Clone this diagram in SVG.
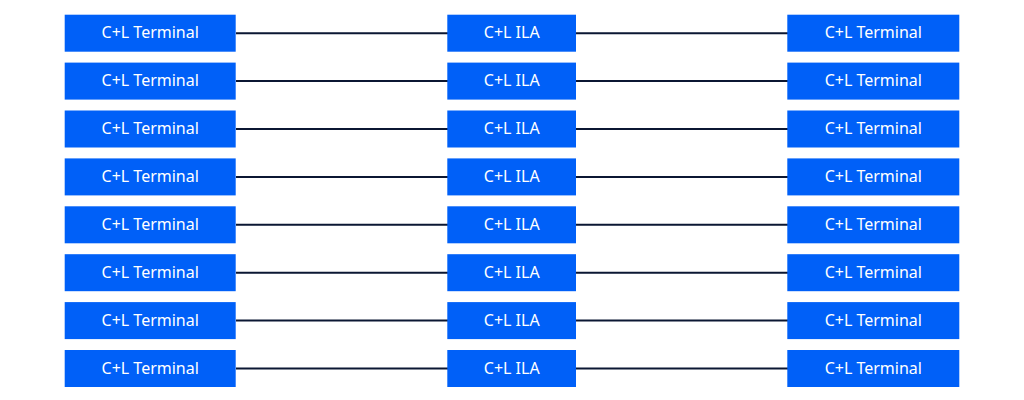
<svg xmlns="http://www.w3.org/2000/svg" width="1024" height="400" viewBox="0 0 1024 400">
<style>
.box{fill:#0060F8}
.t{font-family:"Noto Sans","Open Sans",sans-serif;font-size:16px;fill:#ffffff;text-anchor:middle;dominant-baseline:central}
.c{stroke:#0B1733;stroke-width:2;fill:none}
</style>
<rect width="1024" height="400" fill="#ffffff"/>
<g id="connectors">
<path class="c" d="M236 33.2H448M576 33.2H788"/>
<path class="c" d="M236 81.1H448M576 81.1H788"/>
<path class="c" d="M236 129H448M576 129H788"/>
<path class="c" d="M236 176.9H448M576 176.9H788"/>
<path class="c" d="M236 224.8H448M576 224.8H788"/>
<path class="c" d="M236 272.7H448M576 272.7H788"/>
<path class="c" d="M236 320.6H448M576 320.6H788"/>
<path class="c" d="M236 368.5H448M576 368.5H788"/>
</g>
<g id="l1"><rect class="box" x="64.7" y="14.7" width="171" height="37"/><text class="t" x="150.2" y="32.2">C+L Terminal</text></g>
<g id="m1"><rect class="box" x="447.3" y="14.7" width="128.7" height="37"/><text class="t" x="511.7" y="32.2">C+L ILA</text></g>
<g id="r1"><rect class="box" x="787.3" y="14.7" width="172" height="37"/><text class="t" x="873.3" y="32.2">C+L Terminal</text></g>
<g id="l2"><rect class="box" x="64.7" y="62.6" width="171" height="37"/><text class="t" x="150.2" y="80.1">C+L Terminal</text></g>
<g id="m2"><rect class="box" x="447.3" y="62.6" width="128.7" height="37"/><text class="t" x="511.7" y="80.1">C+L ILA</text></g>
<g id="r2"><rect class="box" x="787.3" y="62.6" width="172" height="37"/><text class="t" x="873.3" y="80.1">C+L Terminal</text></g>
<g id="l3"><rect class="box" x="64.7" y="110.5" width="171" height="37"/><text class="t" x="150.2" y="128">C+L Terminal</text></g>
<g id="m3"><rect class="box" x="447.3" y="110.5" width="128.7" height="37"/><text class="t" x="511.7" y="128">C+L ILA</text></g>
<g id="r3"><rect class="box" x="787.3" y="110.5" width="172" height="37"/><text class="t" x="873.3" y="128">C+L Terminal</text></g>
<g id="l4"><rect class="box" x="64.7" y="158.4" width="171" height="37"/><text class="t" x="150.2" y="175.9">C+L Terminal</text></g>
<g id="m4"><rect class="box" x="447.3" y="158.4" width="128.7" height="37"/><text class="t" x="511.7" y="175.9">C+L ILA</text></g>
<g id="r4"><rect class="box" x="787.3" y="158.4" width="172" height="37"/><text class="t" x="873.3" y="175.9">C+L Terminal</text></g>
<g id="l5"><rect class="box" x="64.7" y="206.3" width="171" height="37"/><text class="t" x="150.2" y="223.8">C+L Terminal</text></g>
<g id="m5"><rect class="box" x="447.3" y="206.3" width="128.7" height="37"/><text class="t" x="511.7" y="223.8">C+L ILA</text></g>
<g id="r5"><rect class="box" x="787.3" y="206.3" width="172" height="37"/><text class="t" x="873.3" y="223.8">C+L Terminal</text></g>
<g id="l6"><rect class="box" x="64.7" y="254.2" width="171" height="37"/><text class="t" x="150.2" y="271.7">C+L Terminal</text></g>
<g id="m6"><rect class="box" x="447.3" y="254.2" width="128.7" height="37"/><text class="t" x="511.7" y="271.7">C+L ILA</text></g>
<g id="r6"><rect class="box" x="787.3" y="254.2" width="172" height="37"/><text class="t" x="873.3" y="271.7">C+L Terminal</text></g>
<g id="l7"><rect class="box" x="64.7" y="302.1" width="171" height="37"/><text class="t" x="150.2" y="319.6">C+L Terminal</text></g>
<g id="m7"><rect class="box" x="447.3" y="302.1" width="128.7" height="37"/><text class="t" x="511.7" y="319.6">C+L ILA</text></g>
<g id="r7"><rect class="box" x="787.3" y="302.1" width="172" height="37"/><text class="t" x="873.3" y="319.6">C+L Terminal</text></g>
<g id="l8"><rect class="box" x="64.7" y="350" width="171" height="37"/><text class="t" x="150.2" y="367.5">C+L Terminal</text></g>
<g id="m8"><rect class="box" x="447.3" y="350" width="128.7" height="37"/><text class="t" x="511.7" y="367.5">C+L ILA</text></g>
<g id="r8"><rect class="box" x="787.3" y="350" width="172" height="37"/><text class="t" x="873.3" y="367.5">C+L Terminal</text></g>
</svg>
